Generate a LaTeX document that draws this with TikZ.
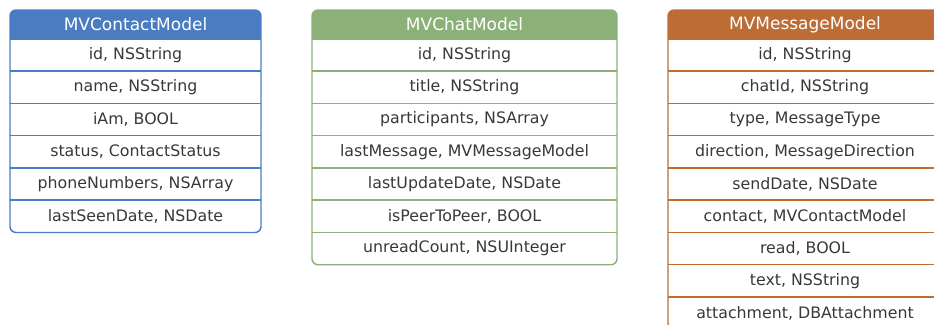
\documentclass[tikz,border=0pt]{standalone}
\usepackage{fontspec}
\setmainfont{DejaVu Sans}
\definecolor{contactblue}{HTML}{4B7CC1}
\definecolor{chatgreen}{HTML}{8CB178}
\definecolor{msgorange}{HTML}{BD6C36}
\definecolor{cellink}{HTML}{383838}

\tikzset{
  hdrtext/.style={text=white, inner sep=0pt, font=\fontsize{17}{20}\selectfont},
  celltext/.style={text=cellink, inner sep=0pt, font=\fontsize{15.8}{19}\selectfont},
  rowline/.style={line width=1.4pt},
  frame/.style={line width=1.4pt, rounded corners=6pt},
}

% #1 prefix, #2 colour, #3 left, #4 right, #5 title, #6 number of fields, #7 fields
\newcommand\modeltable[7]{%
  \pgfmathsetmacro\tabmid{(#3+#4)/2}
  \pgfmathsetmacro\tabwd{#4-#3}
  \pgfmathsetmacro\tabbot{39+32.25*#6}
  \begin{scope}
    \clip[rounded corners=6pt] (#3,10) rectangle (#4,\tabbot);
    \fill[#2] (#3,10) rectangle (#4,39);
  \end{scope}
  \node[hdrtext, minimum width=\tabwd pt, minimum height=29pt] (#1-0) at (\tabmid,24.5) {#5};
  \foreach \f [count=\i] in {#7} {
    \node[celltext, minimum width=\tabwd pt, minimum height=32.25pt]
      (#1-\i) at (\tabmid,{39+32.25*(\i-0.5)}) {\f};
    \draw[rowline, #2] (#1-\i.north west) -- (#1-\i.north east);
  }
  \draw[frame, #2] (#3,10) rectangle (#4,\tabbot);
}

\begin{document}
\begin{tikzpicture}[x=1pt, y=-1pt]
  \useasboundingbox (0,0) rectangle (934,324);
  \clip (0,0) rectangle (934,324);

  \modeltable{contact}{contactblue}{10}{261}{MVContactModel}{6}{%
    {id, NSString},{name, NSString},{iAm, BOOL},{status, ContactStatus},%
    {phoneNumbers, NSArray},{lastSeenDate, NSDate}}

  \modeltable{chat}{chatgreen}{312}{617}{MVChatModel}{7}{%
    {id, NSString},{title, NSString},{participants, NSArray},%
    {lastMessage, MVMessageModel},{lastUpdateDate, NSDate},%
    {isPeerToPeer, BOOL},{unreadCount, NSUInteger}}

  \modeltable{message}{msgorange}{668}{942}{MVMessageModel}{9}{%
    {id, NSString},{chatId, NSString},{type, MessageType},%
    {direction, MessageDirection},{sendDate, NSDate},%
    {contact, MVContactModel},{read, BOOL},{text, NSString},%
    {attachment, DBAttachment}}
\end{tikzpicture}
\end{document}
